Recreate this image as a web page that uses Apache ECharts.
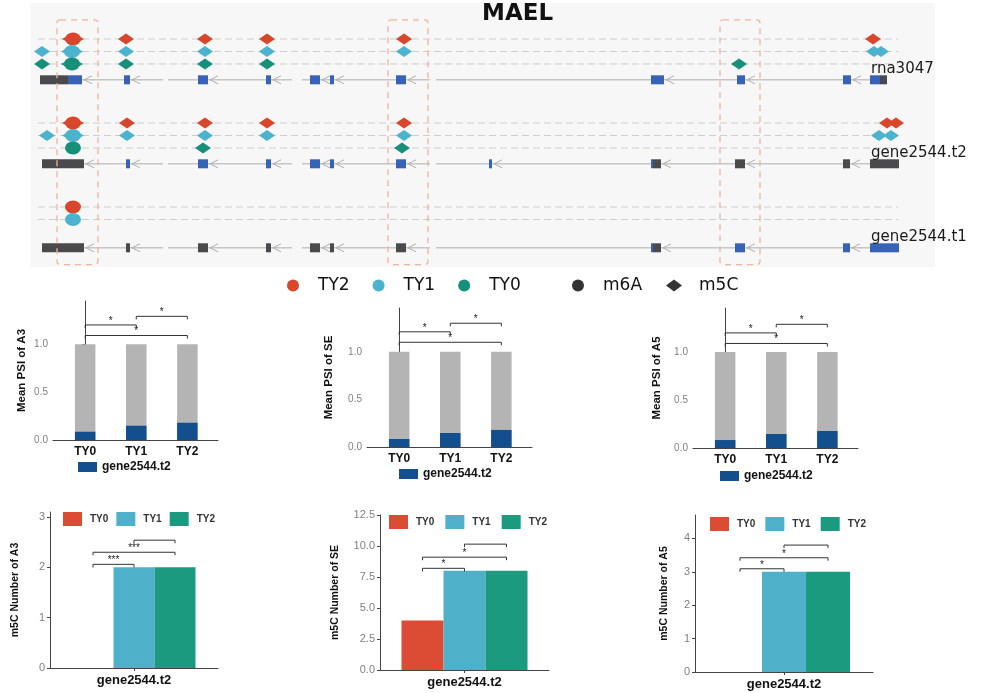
<!DOCTYPE html>
<html><head><meta charset="utf-8">
<script src="https://cdn.jsdelivr.net/npm/echarts@6/dist/echarts.min.js"></script>
<style>html,body{margin:0;padding:0;background:#fff}#c{width:981px;height:693px}</style>
</head><body><div id="c"></div>
<script>
// ================= DATA =================
const chartTitle = 'MAEL';
const transcripts = ['rna3047', 'gene2544.t2', 'gene2544.t1'];
const groups = ['TY2', 'TY1', 'TY0'];
const tracksPerTranscript = [3, 3, 2];
const locusRange = [8, 868];
const labelAnchor = 841;
// exons: [transcriptIndex, start, end, kind]  (relative locus position)
const exons = [
  [0,10,38,'utr'],[0,38,52,'cds'],[0,94,100,'cds'],[0,168,178,'cds'],[0,236,241,'cds'],[0,280,290,'cds'],[0,300,304,'cds'],[0,366,376,'cds'],[0,621,634,'cds'],[0,707,715,'cds'],[0,813,821,'cds'],[0,840,850,'cds'],[0,850,857,'utr'],
  [1,12,54,'utr'],[1,96,100,'cds'],[1,168,178,'cds'],[1,236,241,'cds'],[1,280,290,'cds'],[1,300,304,'cds'],[1,366,376,'cds'],[1,459,462,'cds'],[1,621,623,'cds'],[1,623,631,'utr'],[1,705,715,'utr'],[1,813,820,'utr'],[1,840,869,'utr'],
  [2,12,54,'utr'],[2,96,100,'utr'],[2,168,178,'utr'],[2,236,241,'utr'],[2,280,290,'utr'],[2,300,304,'utr'],[2,366,376,'utr'],[2,621,623,'cds'],[2,623,631,'utr'],[2,705,715,'cds'],[2,813,820,'cds'],[2,840,869,'cds']
];
const axisBreaks = [[133,138],[262,272],[400,406]];
const highlightRegions = [[27,68],[358,398],[690,730]];
// modifications: [transcriptIndex, position, type]
const modsTY2 = [
  [0,43,'m5C'],[0,43,'m6A'],[0,96,'m5C'],[0,175,'m5C'],[0,237,'m5C'],[0,374,'m5C'],[0,843,'m5C'],
  [1,43,'m5C'],[1,43,'m6A'],[1,97,'m5C'],[1,175,'m5C'],[1,237,'m5C'],[1,374,'m5C'],[1,857,'m5C'],[1,866,'m5C'],
  [2,43,'m6A']
];
const modsTY1 = [
  [0,12,'m5C'],[0,42,'m5C'],[0,42,'m6A'],[0,96,'m5C'],[0,175,'m5C'],[0,237,'m5C'],[0,374,'m5C'],[0,844,'m5C'],[0,851,'m5C'],
  [1,17,'m5C'],[1,43,'m5C'],[1,43,'m6A'],[1,97,'m5C'],[1,175,'m5C'],[1,237,'m5C'],[1,374,'m5C'],[1,849,'m5C'],[1,861,'m5C'],
  [2,43,'m6A']
];
const modsTY0 = [
  [0,12,'m5C'],[0,42,'m5C'],[0,42,'m6A'],[0,96,'m5C'],[0,175,'m5C'],[0,237,'m5C'],[0,709,'m5C'],
  [1,43,'m6A'],[1,173,'m5C'],[1,372,'m5C']
];

const psiCats = ['TY0', 'TY1', 'TY2'];
const psiTotal = [1, 1, 1];
const psiA3 = [0.086, 0.149, 0.18];
const psiSE = [0.084, 0.147, 0.179];
const psiA5 = [0.083, 0.146, 0.177];
const psiSigPairs = [[0,1],[1,2],[0,2]];
const psiSigLabels = ['*','*','*'];
const psiA3SigY = [1.2, 1.29, 1.09];
const psiSESigY = [1.21, 1.30, 1.10];
const psiA5SigY = [1.2, 1.29, 1.09];
const psiYTicks = [0, 0.5, 1.0];

const m5cCat = ['gene2544.t2'];
const m5cGroups = ['TY0', 'TY1', 'TY2'];
const m5cA3 = [0, 2, 2];
const m5cSE = [4, 8, 8];
const m5cA5 = [0, 3, 3];
const m5cSigPairs = [[0,1],[0,2],[1,2]];
const m5cA3SigLabels = ['***','***',''];
const m5cSESigLabels = ['*','*',''];
const m5cA5SigLabels = ['*','*',''];
const m5cA3SigY = [2.06, 2.3, 2.54];
const m5cSESigY = [8.2, 9.1, 10.15];
const m5cA5SigY = [3.09, 3.42, 3.8];
const m5cA3Ticks = [0, 1, 2, 3];
const m5cSETicks = [0, 2.5, 5, 7.5, 10, 12.5];
const m5cA5Ticks = [0, 1, 2, 3, 4];

// ================= STYLE =================
const topColors = { TY2: '#d8472c', TY1: '#4cb3ce', TY0: '#17907a' };
const barColors = { TY0: '#dc4b33', TY1: '#4fb0c9', TY2: '#1b9a7f' };
const blueColor = '#134f8e', greyColor = '#b4b4b4';
const ELLIPSE = 'path://M0 50A50 50 0 1 0 100 50A50 50 0 1 0 0 50Z';
const SANS = '"Liberation Sans", Arial, sans-serif';

function rowY(t, g) { return t * 7 + 1 + g * 1.04; }
function geneY(t) { return t * 7 + 4.4; }

const option = {
  animation: false,
  backgroundColor: '#ffffff',
  textStyle: { fontFamily: SANS },
  title: { text: chartTitle, left: 482, top: 3, padding: 0,
    textStyle: { fontFamily: '"DejaVu Sans", sans-serif', fontWeight: 'bold', fontSize: 23, color: '#111' } },
  grid: [], xAxis: [], yAxis: [], series: [], legend: []
};

// ---------- top gene structure panel ----------
option.grid.push({ left: 30, top: 3, width: 905, height: 264, show: true, backgroundColor: '#f7f7f7', borderWidth: 0 });
option.xAxis.push({ type: 'value', gridIndex: 0, min: 0, max: 905, show: false });
option.yAxis.push({ type: 'value', gridIndex: 0, min: -2, max: 20, inverse: true, show: false });

const trackData = [];
transcripts.forEach((tn, t) => { for (let g = 0; g < tracksPerTranscript[t]; g++) trackData.push([t, g]); });
option.series.push({
  type: 'custom', name: 'tracks', xAxisIndex: 0, yAxisIndex: 0, silent: true, z: 1,
  data: trackData,
  renderItem: (params, api) => {
    const y = rowY(api.value(0), api.value(1));
    const a = api.coord([locusRange[0], y]), b = api.coord([locusRange[1], y]);
    return { type: 'line', shape: { x1: a[0], y1: a[1], x2: b[0], y2: b[1] },
      style: { stroke: '#cdcdcd', lineWidth: 1, lineDash: [7, 4] } };
  }
});

option.series.push({
  type: 'custom', name: 'genes', xAxisIndex: 0, yAxisIndex: 0, silent: true, z: 2,
  data: transcripts.map((n, t) => [t]),
  renderItem: (params, api) => {
    const t = api.value(0);
    const ex = exons.filter(e => e[0] === t).sort((a, b) => a[1] - b[1]);
    const y = geneY(t);
    const s = Math.min(...ex.map(e => e[1])), e = Math.max(...ex.map(e => e[2]));
    const children = [];
    let cur = s;
    const segs = [];
    axisBreaks.forEach(br => { if (br[0] > cur && br[0] < e) { segs.push([cur, br[0]]); cur = br[1]; } });
    segs.push([cur, e]);
    segs.forEach(sg => {
      const a = api.coord([sg[0], y]), b = api.coord([sg[1], y]);
      children.push({ type: 'line', shape: { x1: a[0], y1: a[1], x2: b[0], y2: b[1] },
        style: { stroke: '#c6c6c6', lineWidth: 1.6 } });
    });
    ex.forEach((x, i) => {
      if (i === ex.length - 1) return;
      if (ex[i + 1][1] === x[2]) return;
      const p = api.coord([x[2], y]);
      children.push({ type: 'polyline', shape: { points: [[p[0] + 10, p[1] - 4], [p[0] + 2, p[1]], [p[0] + 10, p[1] + 4]] },
        style: { stroke: '#b0b0b0', lineWidth: 1, fill: null } });
    });
    ex.forEach(x => {
      const a = api.coord([x[1], y]), b = api.coord([x[2], y]);
      children.push({ type: 'rect', shape: { x: a[0], y: a[1] - 4.5, width: Math.max(b[0] - a[0], 2), height: 9 },
        style: { fill: x[3] === 'cds' ? '#3862b6' : '#4a4a4c' } });
    });
    return { type: 'group', children };
  }
});

option.series.push({
  type: 'custom', name: 'highlight', xAxisIndex: 0, yAxisIndex: 0, silent: true, z: 5,
  data: highlightRegions,
  renderItem: (params, api) => {
    const a = api.coord([api.value(0), -0.6]), b = api.coord([api.value(1), 19.8]);
    return { type: 'rect', shape: { x: a[0], y: a[1], width: b[0] - a[0], height: b[1] - a[1], r: 3 },
      style: { fill: null, stroke: '#efb49c', lineWidth: 1.3, lineDash: [6, 5] } };
  }
});

[modsTY2, modsTY1, modsTY0].forEach((mods, g) => {
  const name = groups[g];
  option.series.push({
    type: 'scatter', name, xAxisIndex: 0, yAxisIndex: 0, z: 4, silent: true,
    itemStyle: { color: topColors[name], opacity: 1 },
    data: mods.map(m => {
      const isM6A = m[2] === 'm6A';
      const overl = !isM6A && mods.some(o => o[0] === m[0] && o[1] === m[1] && o[2] === 'm6A');
      return { value: [m[1], rowY(m[0], g)], symbol: isM6A ? ELLIPSE : 'diamond',
        symbolSize: isM6A ? [16, 13] : (overl ? [22, 12] : [16, 11]) };
    })
  });
});
option.series.push({ type: 'scatter', name: 'm6A', xAxisIndex: 0, yAxisIndex: 0, data: [], itemStyle: { color: '#000' } });
option.series.push({ type: 'scatter', name: 'm5C', xAxisIndex: 0, yAxisIndex: 0, data: [], itemStyle: { color: '#000' } });

option.series.push({
  type: 'custom', name: 'labels', xAxisIndex: 0, yAxisIndex: 0, silent: true, z: 6,
  data: transcripts.map((n, t) => [t]),
  renderItem: (params, api) => {
    const t = api.value(0);
    const p = api.coord([labelAnchor, geneY(t)]);
    return { type: 'text', x: p[0], y: p[1] - 11,
      style: { text: transcripts[t], fill: '#1a1a1a', font: '15px "DejaVu Sans", sans-serif', textAlign: 'left', textVerticalAlign: 'middle' } };
  }
});

option.legend.push({
  left: 287, top: 277, padding: 0, itemGap: 23, itemWidth: 16, itemHeight: 12, selectedMode: false,
  data: groups.map(g => ({ name: g, icon: ELLIPSE, itemStyle: { color: topColors[g] } })),
  textStyle: { fontFamily: '"DejaVu Sans", sans-serif', fontSize: 17, color: '#111', padding: [0, 0, 0, 12] }
});
option.legend.push({
  left: 572, top: 277, padding: 0, itemGap: 24, itemWidth: 16, itemHeight: 12, selectedMode: false,
  data: [{ name: 'm6A', icon: ELLIPSE, itemStyle: { color: '#000' } }, { name: 'm5C', icon: 'diamond', itemStyle: { color: '#000' } }],
  textStyle: { fontFamily: '"DejaVu Sans", sans-serif', fontSize: 17, color: '#111', padding: [0, 0, 0, 12] }
});

// ---------- helpers ----------
function bracketShape(x1, x2, y, label) {
  const ch = [{ type: 'polyline', shape: { points: [[x1, y + 3], [x1, y], [x2, y], [x2, y + 3]] },
    style: { stroke: '#333', lineWidth: 1, fill: null } }];
  if (label) ch.push({ type: 'text', x: (x1 + x2) / 2, y: y + 1,
    style: { text: label, fill: '#222', font: '10px ' + SANS, textAlign: 'center', textVerticalAlign: 'bottom' } });
  return { type: 'group', children: ch };
}

function addPsi(cfg) {
  const gi = option.grid.length;
  option.grid.push({ left: cfg.left, top: cfg.top, width: cfg.width, height: cfg.height });
  option.xAxis.push({ type: 'value', gridIndex: gi, min: -0.63, max: 2.6,
    axisLine: { show: true, onZero: false, lineStyle: { color: '#444', width: 1 } }, axisTick: { show: false }, splitLine: { show: false },
    axisLabel: { customValues: [0, 1, 2], formatter: v => psiCats[Math.round(v)], fontFamily: SANS, fontWeight: 'bold', fontSize: 12, color: '#111', margin: 6 } });
  option.yAxis.push({ type: 'value', gridIndex: gi, min: 0, max: cfg.max,
    name: cfg.name, nameLocation: 'middle', nameGap: cfg.nameGap,
    nameTextStyle: { fontFamily: SANS, fontWeight: 'bold', fontSize: 11.5, color: '#111' },
    axisLine: { show: true, lineStyle: { color: '#444', width: 1 } },
    axisTick: { show: true, length: 3, customValues: psiYTicks, lineStyle: { color: '#444' } },
    axisLabel: { customValues: psiYTicks, formatter: v => v.toFixed(1), color: '#808080', fontSize: 10, margin: 5 },
    splitLine: { show: false } });
  // total (grey) with the gene2544.t2 share (blue) overlaid on top of it
  option.series.push({ type: 'bar', name: 'total', xAxisIndex: gi, yAxisIndex: gi, barWidth: 20.5, barGap: '-100%',
    itemStyle: { color: greyColor }, data: psiCats.map((c, i) => [i, psiTotal[i]]) });
  option.series.push({ type: 'bar', name: 'gene2544.t2', xAxisIndex: gi, yAxisIndex: gi, barWidth: 20.5, barGap: '-100%',
    itemStyle: { color: blueColor }, data: psiCats.map((c, i) => [i, cfg.values[i]]) });
  option.series.push({ type: 'custom', xAxisIndex: gi, yAxisIndex: gi, silent: true, z: 5,
    data: cfg.sigY.map((y, i) => [psiSigPairs[i][0], y]),
    renderItem: (params, api) => {
      const i = params.dataIndex, pr = psiSigPairs[i];
      const a = api.coord([pr[0], cfg.sigY[i]]), b = api.coord([pr[1], cfg.sigY[i]]);
      return bracketShape(a[0], b[0], a[1], psiSigLabels[i]);
    } });
  option.legend.push({ left: cfg.legLeft, top: cfg.legTop, padding: 0, icon: 'rect', itemWidth: 19, itemHeight: 10, selectedMode: false,
    data: [{ name: 'gene2544.t2', itemStyle: { color: blueColor } }],
    textStyle: { fontFamily: SANS, fontWeight: 'bold', fontSize: 12, color: '#111' } });
}

function addM5c(cfg) {
  const gi = option.grid.length;
  option.grid.push({ left: cfg.left, top: cfg.top, width: cfg.width, height: cfg.height });
  option.xAxis.push({ type: 'category', gridIndex: gi, data: m5cCat,
    axisLine: { show: true, lineStyle: { color: '#444', width: 1 } },
    axisTick: { show: true, alignWithLabel: true, length: 3, lineStyle: { color: '#444' } },
    axisLabel: { fontFamily: SANS, fontWeight: 'bold', fontSize: 13, color: '#111', margin: 6 } });
  option.yAxis.push({ type: 'value', gridIndex: gi, min: 0, max: cfg.max,
    name: cfg.name, nameLocation: 'middle', nameGap: cfg.nameGap,
    nameTextStyle: { fontFamily: SANS, fontWeight: 'bold', fontSize: 10.5, color: '#111' },
    axisLine: { show: true, lineStyle: { color: '#444', width: 1 } },
    axisTick: { show: true, length: 3, customValues: cfg.ticks, lineStyle: { color: '#444' } },
    axisLabel: { customValues: cfg.ticks, formatter: v => cfg.dec ? v.toFixed(1) : String(v), color: '#808080', fontSize: 11, margin: 5 },
    splitLine: { show: false } });
  m5cGroups.forEach((g, k) => {
    option.series.push({ type: 'bar', name: g, xAxisIndex: gi, yAxisIndex: gi, barWidth: cfg.barW, barGap: '0%',
      itemStyle: { color: barColors[g] }, data: [cfg.values[k]] });
  });
  option.series.push({ type: 'custom', xAxisIndex: gi, yAxisIndex: gi, silent: true, z: 5,
    data: cfg.sigY.map(y => [0, y]),
    renderItem: (params, api) => {
      const i = params.dataIndex, pr = m5cSigPairs[i];
      const c = api.coord([0, api.value(1)]);
      return bracketShape(c[0] + (pr[0] - 1) * cfg.barW, c[0] + (pr[1] - 1) * cfg.barW, c[1], cfg.labels[i]);
    } });
  option.legend.push({ left: cfg.legLeft, top: cfg.legTop, padding: 0, icon: 'rect', itemWidth: 19, itemHeight: 14, itemGap: cfg.legGap, selectedMode: false,
    data: m5cGroups.map(g => ({ name: g, itemStyle: { color: barColors[g] } })),
    textStyle: { fontFamily: SANS, fontWeight: 'bold', fontSize: 10, color: '#333', padding: [0, 0, 0, 3] } });
}

addPsi({ left: 53, top: 301, width: 165, height: 139, max: 1.45, name: 'Mean PSI of A3', nameGap: 25, values: psiA3, sigY: psiA3SigY, legLeft: 78, legTop: 461 });
addPsi({ left: 367, top: 308, width: 165, height: 139, max: 1.46, name: 'Mean PSI of SE', nameGap: 32, values: psiSE, sigY: psiSESigY, legLeft: 399, legTop: 468 });
addPsi({ left: 693, top: 308, width: 165, height: 140, max: 1.46, name: 'Mean PSI of A5', nameGap: 30, values: psiA5, sigY: psiA5SigY, legLeft: 720, legTop: 470 });

addM5c({ left: 50, top: 512, width: 168, height: 156, max: 3.1, ticks: m5cA3Ticks, dec: false, name: 'm5C Number of A3', nameGap: 29,
  values: m5cA3, sigY: m5cA3SigY, labels: m5cA3SigLabels, barW: 41, legLeft: 63, legTop: 512, legGap: 8 });
addM5c({ left: 380, top: 515, width: 169, height: 155, max: 12.5, ticks: m5cSETicks, dec: true, name: 'm5C Number of SE', nameGap: 39,
  values: m5cSE, sigY: m5cSESigY, labels: m5cSESigLabels, barW: 42, legLeft: 389, legTop: 515, legGap: 11 });
addM5c({ left: 695, top: 515, width: 178, height: 157, max: 4.7, ticks: m5cA5Ticks, dec: false, name: 'm5C Number of A5', nameGap: 25,
  values: m5cA5, sigY: m5cA5SigY, labels: m5cA5SigLabels, barW: 44, legLeft: 710, legTop: 517, legGap: 10 });

const chart = echarts.init(document.getElementById('c'), null, { renderer: 'canvas' });
chart.setOption(option);
</script>
</body></html>
